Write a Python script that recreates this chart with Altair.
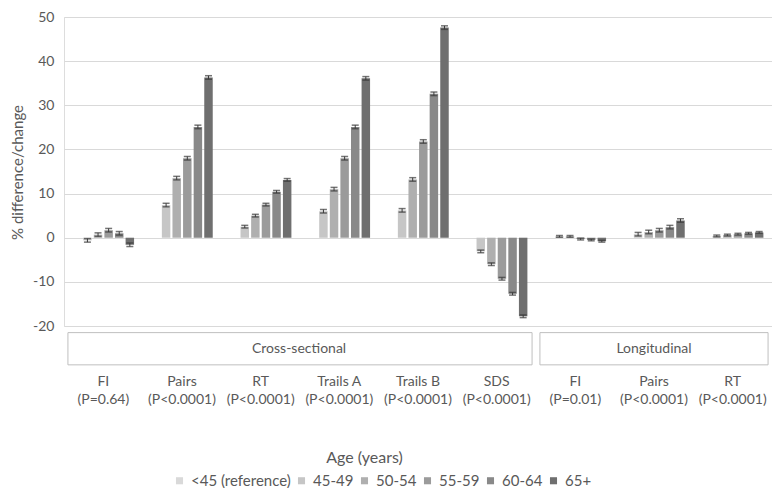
import altair as alt
import pandas as pd

# ---- data ----
measures = ["FI", "Pairs", "RT", "Trails A", "Trails B", "SDS", "FI", "Pairs", "RT"]
pvalues = ["(P=0.64)", "(P<0.0001)", "(P<0.0001)", "(P<0.0001)", "(P<0.0001)",
           "(P<0.0001)", "(P=0.01)", "(P<0.0001)", "(P<0.0001)"]
studies = ["Cross-sectional"] * 6 + ["Longitudinal"] * 3

ages = ["<45 (reference)", "45-49", "50-54", "55-59", "60-64", "65+"]
v_45_49 = [-0.6, 7.4, 2.5, 6.0, 6.2, -3.1, 0.3, 0.8, 0.4]
v_50_54 = [0.7, 13.5, 5.0, 11.0, 13.2, -6.0, 0.3, 1.3, 0.6]
v_55_59 = [1.7, 18.0, 7.5, 18.0, 21.8, -9.3, -0.3, 1.7, 0.8]
v_60_64 = [1.0, 25.1, 10.4, 25.1, 32.6, -12.7, -0.5, 2.4, 1.0]
v_65 = [-1.6, 36.3, 13.1, 36.1, 47.6, -17.8, -0.8, 3.9, 1.2]
errors = [0.4, 0.4, 0.3, 0.4, 0.4, 0.3, 0.2, 0.4, 0.2]

greys = ["#d9d9d9", "#c6c6c6", "#afafaf", "#9b9b9b", "#898989", "#6f6f6f"]

FONT = "Lato"
TXT = "#595959"

keys = [f"{i}|{m}|{p}" for i, (m, p) in enumerate(zip(measures, pvalues))]

rows = []
for age, vals in zip(ages[1:], [v_45_49, v_50_54, v_55_59, v_60_64, v_65]):
    for k, val, e in zip(keys, vals, errors):
        rows.append({"key": k, "age": age, "value": val, "lo": val - e, "hi": val + e})
df = pd.DataFrame(rows)

xscale = alt.Scale(domain=keys, paddingInner=0.1, paddingOuter=0.05)
xoff = alt.XOffset("age:N", scale=alt.Scale(domain=ages, paddingInner=0.2, paddingOuter=0.44))
yscale = alt.Scale(domain=[-20, 50], nice=False)

x_axis = alt.Axis(labelExpr="slice(split(datum.label, '|'), 1)",
                  labelAngle=0, labelPadding=48, labelLineHeight=18,
                  labelFontSize=14, labelColor=TXT, labelFont=FONT, labelLimit=300,
                  domain=False, ticks=False, grid=False,
                  titleFont=FONT, titleFontSize=16, titleColor=TXT,
                  titleFontWeight="normal", titleX=300, titleY=131,
                  titleAlign="center", titleBaseline="middle")
y_axis = alt.Axis(values=[-20, -10, 0, 10, 20, 30, 40, 50], domain=False, ticks=False,
                  labelExpr="datum.value + ''",
                  gridColor="#d9d9d9", gridWidth=1, labelPadding=10,
                  labelFontSize=14, labelColor=TXT, labelFont=FONT,
                  titleFont=FONT, titleFontSize=15, titleColor=TXT,
                  titleFontWeight="normal", titleX=-47, titleY=155,
                  titleAlign="center", titleBaseline="middle", titleAngle=270)
XT = "Age (years)"
YT = "% difference/change"


def xenc(field, **kw):
    return alt.X(field, scale=xscale, sort=keys, title=XT, axis=x_axis, **kw)


def yenc(field):
    return alt.Y(field, scale=yscale, title=YT, axis=y_axis)


bars = alt.Chart(df).mark_bar().encode(
    x=xenc("key:N"),
    xOffset=xoff,
    y=yenc("value:Q"),
    fill=alt.Fill("age:N", scale=alt.Scale(domain=ages, range=greys),
                  legend=alt.Legend(orient="none", direction="horizontal", title=None,
                                    legendX=108, legendY=456, symbolType="square",
                                    symbolSize=50, symbolStrokeWidth=0, labelOffset=4,
                                    columnPadding=3, labelFontSize=15, labelColor=TXT,
                                    labelFont=FONT)),
)

err = alt.Chart(df).mark_rule(color="#3a3a3a", strokeWidth=1).encode(
    x=xenc("key:N"), xOffset=xoff, y=yenc("lo:Q"), y2="hi:Q",
)
cap_lo = alt.Chart(df).mark_tick(orient="horizontal", size=7, thickness=1.5, color="#3a3a3a").encode(
    x=xenc("key:N"), xOffset=xoff, y=yenc("lo:Q"))
cap_hi = alt.Chart(df).mark_tick(orient="horizontal", size=7, thickness=1.5, color="#3a3a3a").encode(
    x=xenc("key:N"), xOffset=xoff, y=yenc("hi:Q"))

# group boxes below the plot
box_df = pd.DataFrame({
    "study": ["Cross-sectional", "Longitudinal"],
    "start": [keys[0], keys[6]],
    "end": [keys[5], keys[8]],
    "centerkey": [keys[2], keys[7]],
    "top": [-21.5, -21.5],
    "bottom": [-28.8, -28.8],
    "mid": [-25.15, -25.15],
})
boxes = alt.Chart(box_df).mark_rect(fill="white", stroke="#bfbfbf", strokeWidth=1).encode(
    x=xenc("start:N", bandPosition=0),
    x2=alt.X2("end:N", bandPosition=1),
    y=yenc("top:Q"),
    y2="bottom:Q",
)
txt_cross = alt.Chart(box_df.iloc[[0]]).mark_text(
    font=FONT, fontSize=14, color=TXT, dx=3, baseline="middle").encode(
    x=xenc("centerkey:N", bandPosition=1),
    y=yenc("mid:Q"),
    text="study:N",
)
txt_long = alt.Chart(box_df.iloc[[1]]).mark_text(
    font=FONT, fontSize=14, color=TXT, baseline="middle").encode(
    x=xenc("centerkey:N"),
    y=yenc("mid:Q"),
    text="study:N",
)

chart = alt.layer(bars, err, cap_lo, cap_hi, boxes, txt_cross, txt_long).properties(
    width=708, height=309,
    autosize=alt.AutoSizeParams(type="none"),
    padding={"left": 56, "top": 9, "right": 0, "bottom": 162},
).configure_view(stroke=None).configure(font=FONT)

chart.save("out.html", embed_options={"renderer": "svg", "actions": False})
